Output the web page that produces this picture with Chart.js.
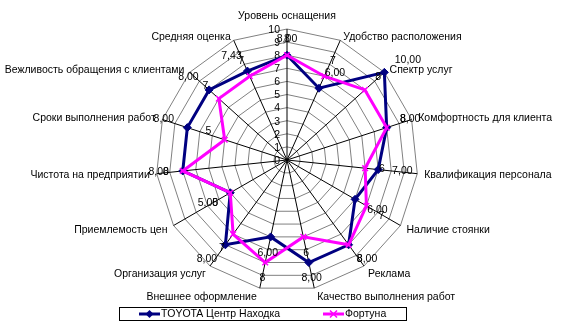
<!DOCTYPE html>
<html>
<head>
<meta charset="utf-8">
<title>Оценка автосервисов</title>
<script src="https://cdn.jsdelivr.net/npm/chart.js@4/dist/chart.umd.min.js"></script>
<style>
    html, body { margin: 0; padding: 0; background: #ffffff; }
    #wrap { width: 564px; height: 324px; position: relative; }
</style>
</head>
<body>
<div id="wrap"><canvas id="radarChart" width="564" height="324"></canvas></div>
<script>
var categories = [
    'Уровень оснащения',
    'Удобство расположения',
    'Спектр услуг',
    'Комфортность для клиента',
    'Квалификация персонала',
    'Наличие стоянки',
    'Реклама',
    'Качество выполнения работ',
    'Внешнее оформление',
    'Организация услуг',
    'Приемлемость цен',
    'Чистота на предприятии',
    'Сроки выполнения работ',
    'Вежливость обращения с клиентами',
    'Средняя оценка'
];
var seriesNames = ['TOYOTA Центр Находка', 'Фортуна'];
var toyotaValues = [8, 6, 10, 8, 7, 6, 8, 8, 6, 8, 5, 8, 8, 8, 7.43];
var fortunaValues = [8, 7, 8, 8, 6, 7, 8, 6, 8, 7, 5, 8, 5, 7, 7];
var radialTicks = [0, 1, 2, 3, 4, 5, 6, 7, 8, 9, 10];

var FONT = '10.5px "Liberation Sans", Arial, sans-serif';
var NAVY = '#000080';
var MAGENTA = '#ff00ff';

function formatToyota(v) {
    return v.toFixed(2).replace('.', ',');
}
function formatFortuna(v) {
    return String(Math.round(v));
}

// direction of spoke i (unit vector, canvas coords)
function spokeDir(scale, i) {
    var a = scale.getIndexAngle(i) - Math.PI / 2;
    return { x: Math.cos(a), y: Math.sin(a) };
}

// radial tick numbers, right aligned just left of the vertical spoke
var tickLabelsPlugin = {
    id: 'tickLabels',
    beforeDatasetsDraw: function (chart) {
        var scale = chart.scales.r;
        var ctx = chart.ctx;
        ctx.save();
        ctx.font = FONT;
        ctx.fillStyle = '#000';
        ctx.textAlign = 'right';
        ctx.textBaseline = 'middle';
        radialTicks.forEach(function (t) {
            var y = scale.yCenter - scale.getDistanceFromCenterForValue(t);
            ctx.fillText(String(t), scale.xCenter - 7, y + 1);
        });
        ctx.restore();
    }
};

// category names at the spoke ends
var categoryLabelsPlugin = {
    id: 'categoryLabels',
    afterDraw: function (chart) {
        var scale = chart.scales.r;
        var ctx = chart.ctx;
        ctx.save();
        ctx.font = FONT;
        ctx.fillStyle = '#000';
        categories.forEach(function (name, i) {
            var end = scale.getPointPosition(i, scale.drawingArea);
            var d = spokeDir(scale, i);
            if (Math.abs(d.x) < 0.05) {
                ctx.textAlign = 'center';
                ctx.textBaseline = 'bottom';
                ctx.fillText(name, end.x, end.y - 8);
                return;
            }
            var dx = d.x * 7;
            if (Math.abs(dx) < 3) dx = d.x > 0 ? 3 : -3;
            var dy = d.y * (d.y < 0 ? 3.5 : 9.5);
            ctx.textAlign = d.x > 0 ? 'left' : 'right';
            ctx.textBaseline = 'middle';
            ctx.fillText(name, end.x + dx, end.y + dy);
        });
        ctx.restore();
    }
};

// value labels next to each point
var valueLabelsPlugin = {
    id: 'valueLabels',
    afterDatasetsDraw: function (chart) {
        var scale = chart.scales.r;
        var ctx = chart.ctx;
        ctx.save();
        ctx.font = FONT;
        ctx.fillStyle = '#000';
        chart.data.datasets.forEach(function (ds, di) {
            var meta = chart.getDatasetMeta(di);
            var fmt = di === 0 ? formatToyota : formatFortuna;
            meta.data.forEach(function (pt, i) {
                var d = spokeDir(scale, i);
                var x = pt.x + d.x * 14;
                var y = pt.y + d.y * 11;
                if (d.x > 0.3) ctx.textAlign = 'left';
                else if (d.x < -0.3) ctx.textAlign = 'right';
                else ctx.textAlign = 'center';
                if (d.y < -0.3) ctx.textBaseline = 'bottom';
                else if (d.y > 0.3) ctx.textBaseline = 'top';
                else ctx.textBaseline = 'middle';
                ctx.fillText(fmt(ds.data[i]), x, y);
            });
        });
        ctx.restore();
    }
};

function drawMarker(ctx, style, x, y, color) {
    ctx.save();
    ctx.fillStyle = color;
    ctx.strokeStyle = color;
    ctx.lineWidth = 1.5;
    ctx.beginPath();
    if (style === 'rectRot') {
        ctx.moveTo(x, y - 4);
        ctx.lineTo(x + 4, y);
        ctx.lineTo(x, y + 4);
        ctx.lineTo(x - 4, y);
        ctx.closePath();
        ctx.fill();
    } else {
        ctx.moveTo(x - 3.5, y - 3.5);
        ctx.lineTo(x + 3.5, y + 3.5);
        ctx.moveTo(x + 3.5, y - 3.5);
        ctx.lineTo(x - 3.5, y + 3.5);
        ctx.stroke();
    }
    ctx.restore();
}

// boxed legend under the chart
var boxLegendPlugin = {
    id: 'boxLegend',
    afterDraw: function (chart) {
        var ctx = chart.ctx;
        var box = { left: 119.5, top: 307.5, right: 406.5, bottom: 320.5 };
        var items = [
            { x: 139, color: NAVY, style: 'rectRot' },
            { x: 323, color: MAGENTA, style: 'crossRot' }
        ];
        ctx.save();
        ctx.strokeStyle = '#000';
        ctx.lineWidth = 1;
        ctx.strokeRect(box.left, box.top, box.right - box.left, box.bottom - box.top);
        var cy = (box.top + box.bottom) / 2;
        items.forEach(function (it, i) {
            ctx.strokeStyle = it.color;
            ctx.lineWidth = 3;
            ctx.beginPath();
            ctx.moveTo(it.x, cy);
            ctx.lineTo(it.x + 21, cy);
            ctx.stroke();
            drawMarker(ctx, it.style, it.x + 10.5, cy, it.color);
            ctx.font = FONT;
            ctx.fillStyle = '#000';
            ctx.textAlign = 'left';
            ctx.textBaseline = 'middle';
            ctx.fillText(seriesNames[i], it.x + 22, cy + 0.5);
        });
        ctx.restore();
    }
};

var ctx = document.getElementById('radarChart');
var radarChart = new Chart(ctx, {
    type: 'radar',
    data: {
        labels: categories,
        datasets: [{
            label: seriesNames[0],
            data: toyotaValues,
            borderColor: NAVY,
            backgroundColor: 'rgba(0,0,0,0)',
            borderWidth: 3,
            fill: false,
            pointStyle: 'rectRot',
            pointRadius: 4,
            pointBackgroundColor: NAVY,
            pointBorderColor: NAVY,
            pointBorderWidth: 1,
            order: 1
        }, {
            label: seriesNames[1],
            data: fortunaValues,
            borderColor: MAGENTA,
            backgroundColor: 'rgba(0,0,0,0)',
            borderWidth: 3,
            fill: false,
            pointStyle: 'crossRot',
            pointRadius: 4,
            pointBackgroundColor: MAGENTA,
            pointBorderColor: MAGENTA,
            pointBorderWidth: 1.5,
            order: 0
        }]
    },
    options: {
        responsive: false,
        animation: false,
        events: [],
        layout: {
            padding: { left: 156, right: 146, top: 29, bottom: 33 }
        },
        elements: {
            line: { tension: 0 }
        },
        scales: {
            r: {
                min: 0,
                max: 10,
                ticks: { display: false, stepSize: 1 },
                pointLabels: { display: false },
                grid: { color: '#808080', lineWidth: 1, circular: false },
                angleLines: { color: '#000000', lineWidth: 1 }
            }
        },
        plugins: {
            legend: { display: false },
            tooltip: { enabled: false }
        }
    },
    plugins: [tickLabelsPlugin, valueLabelsPlugin, categoryLabelsPlugin, boxLegendPlugin]
});
</script>
</body>
</html>
